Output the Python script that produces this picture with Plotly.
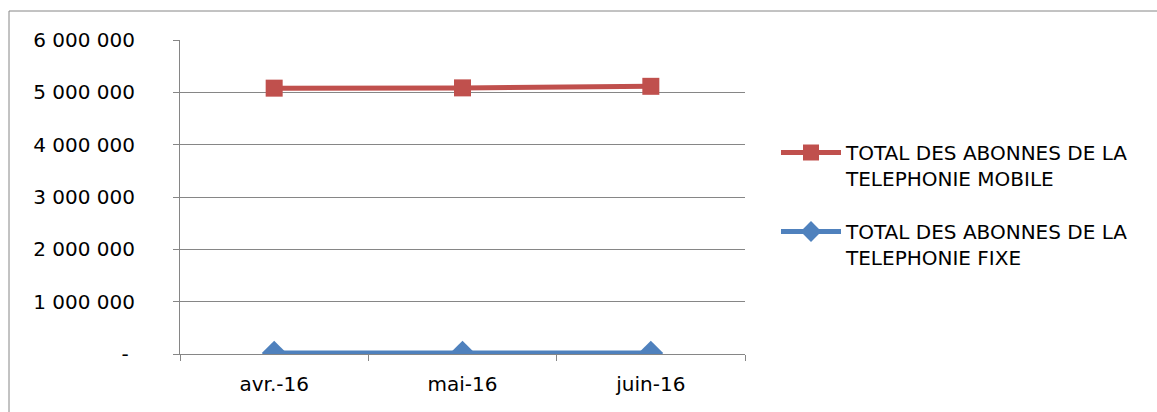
import plotly.graph_objects as go

months = ["avr.-16", "mai-16", "juin-16"]
mobile = [5080000, 5085000, 5115000]
fixe = [18000, 18000, 18000]
mobile_name = "TOTAL DES ABONNES DE LA<br>TELEPHONIE MOBILE"
fixe_name = "TOTAL DES ABONNES DE LA<br>TELEPHONIE FIXE"
y_ticks = [0, 1000000, 2000000, 3000000, 4000000, 5000000, 6000000]
y_labels = ["-\u00a0", "1 000 000", "2 000 000", "3 000 000", "4 000 000", "5 000 000", "6 000 000"]

W, H = 1157, 412
L, R, T, B = 180, 745, 40, 354
pw, ph = R - L, B - T

FONT = "DejaVu Sans"
FS = 20
grid = "#868686"

fig = go.Figure()
fig.add_trace(go.Scatter(
    x=months, y=mobile, name=mobile_name, mode="lines+markers",
    line=dict(color="#C0504D", width=5),
    marker=dict(symbol="square", size=17, color="#C0504D"),
    legendgroup="a",
))
fig.add_trace(go.Scatter(
    x=months, y=fixe, name=fixe_name, mode="lines+markers",
    line=dict(color="#4F81BD", width=5),
    marker=dict(symbol="diamond", size=19, color="#4F81BD"),
    legendgroup="b",
))

def px_x(p):
    return (p - L) / pw

def px_y(p):
    return (B - p) / ph

fig.update_layout(
    width=W, height=H,
    margin=dict(l=L, r=W - R, t=T, b=H - B, pad=0),
    paper_bgcolor="white", plot_bgcolor="white",
    font=dict(family=FONT, size=FS, color="black"),
    showlegend=True,
    legend=dict(
        x=px_x(776), y=px_y(133), xanchor="left", yanchor="top",
        font=dict(family=FONT, size=FS, color="black"),
        tracegroupgap=24, itemwidth=60, valign="top",
        bgcolor="rgba(0,0,0,0)",
    ),
    xaxis=dict(
        type="category", showgrid=False, showline=True, linecolor=grid, linewidth=1,
        ticks="outside", ticklen=6, tickcolor=grid, tickson="boundaries",
        ticklabelstandoff=12, zeroline=False,
        tickfont=dict(family=FONT, size=FS, color="black"),
        range=[-0.5, 2.5],
    ),
    yaxis=dict(
        range=[0, 6000000], tickvals=y_ticks, ticktext=y_labels,
        showgrid=True, gridcolor=grid, gridwidth=1,
        showline=True, linecolor=grid, linewidth=1,
        ticks="outside", ticklen=6, tickcolor=grid,
        ticklabelstandoff=34, zeroline=False,
        tickfont=dict(family=FONT, size=FS, color="black"),
    ),
    shapes=[dict(
        type="rect", xref="paper", yref="paper",
        x0=px_x(9), x1=px_x(1170), y0=px_y(430), y1=px_y(11),
        line=dict(color=grid, width=1), fillcolor="rgba(0,0,0,0)", layer="below",
    )],
)

fig.write_html(
    "out.html",
    config={"displayModeBar": False},
    post_script="document.body.style.margin='0';document.body.style.overflow='hidden';",
)
